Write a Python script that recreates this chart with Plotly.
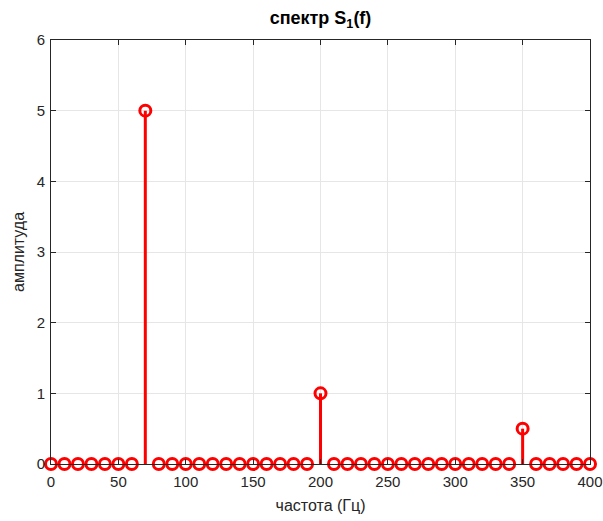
import plotly.graph_objects as go

freqs = list(range(0, 401, 10))
peak_freqs = [70, 200, 350]
peak_amps = [5, 1, 0.5]
amps = [peak_amps[peak_freqs.index(f)] if f in peak_freqs else 0 for f in freqs]

x_ticks = list(range(0, 401, 50))
y_ticks = list(range(0, 7))

stem_x, stem_y = [], []
for f, a in zip(freqs, amps):
    stem_x += [f, f, None]
    stem_y += [0, a, None]

FONT = "Liberation Sans, Arial, sans-serif"

fig = go.Figure()
fig.add_trace(go.Scatter(x=stem_x, y=stem_y, mode="lines",
                         line=dict(color="#ff0000", width=3),
                         hoverinfo="skip", showlegend=False, cliponaxis=False))
fig.add_trace(go.Scatter(x=freqs, y=amps, mode="markers",
                         marker=dict(symbol="circle-open", size=11,
                                     color="#ff0000", line=dict(width=3, color="#ff0000")),
                         showlegend=False, cliponaxis=False))

axis_common = dict(showline=True, linecolor="#262626", linewidth=1, mirror="ticks",
                   ticks="inside", ticklen=5, tickcolor="#262626", automargin=False,
                   showgrid=True, gridcolor="#e6e6e6", gridwidth=1, zeroline=False,
                   tickfont=dict(family=FONT, size=15, color="#262626"))

fig.update_layout(
    width=603, height=521,
    margin=dict(l=51, r=13, t=40, b=57),
    plot_bgcolor="white", paper_bgcolor="white",
    title=dict(text="<b>спектр S<sub>1</sub>(f)</b>", x=(51 + 590) / 2 / 603, xanchor="center",
               y=1 - 18 / 521, yanchor="middle", automargin=False,
               font=dict(family=FONT, size=18, color="black")),
    xaxis=dict(range=[0, 400], tickvals=x_ticks, ticklabelstandoff=4, **axis_common,
               title=dict(text="частота (Гц)", standoff=10,
                          font=dict(family=FONT, size=16, color="#262626"))),
    yaxis=dict(range=[0, 6], tickvals=y_ticks, ticklabelstandoff=2, **axis_common,
               title=dict(text="амплитуда", standoff=8,
                          font=dict(family=FONT, size=16, color="#262626"))),
)

fig.write_html("out.html")
